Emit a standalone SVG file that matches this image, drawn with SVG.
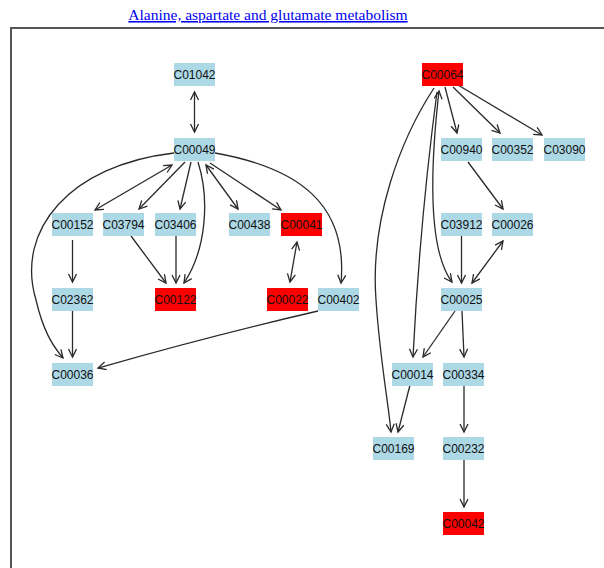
<svg xmlns="http://www.w3.org/2000/svg" width="604" height="568" viewBox="0 0 604 568">
  <style>
    .title { font-family: "Liberation Serif", "Times New Roman", serif; font-size: 15.5px; fill: #0000ee; text-decoration: underline; }
    .node rect { stroke: none; }
    .cpd rect { fill: #add8e6; }
    .hit rect { fill: #ff0000; }
    .node text { font-family: "Liberation Sans", Arial, sans-serif; font-size: 12px; fill: #111111; text-anchor: middle; }
    .edge { fill: none; stroke: #2a2a2a; stroke-width: 1.3; }
    .one { marker-end: url(#vee); }
    .two { marker-start: url(#vee); marker-end: url(#vee); }
  </style>
  <defs>
    <marker id="vee" markerUnits="userSpaceOnUse" markerWidth="12" markerHeight="12" refX="9" refY="4.5" orient="auto-start-reverse" viewBox="0 0 12 12">
      <path d="M1,0.5 L9,4.5 L1,8.5" fill="none" stroke="#2a2a2a" stroke-width="1.3"/>
    </marker>
  </defs>

  <rect width="604" height="568" fill="#ffffff"/>
  <text class="title" x="268" y="20" text-anchor="middle">Alanine, aspartate and glutamate metabolism</text>
  <path d="M11,620 L11,28 L620,28" fill="none" stroke="#555555" stroke-width="2"/>

  <g id="connectors">
    <path class="edge two" d="M194.5,92 L194.5,132"/>
    <path class="edge two" d="M172,165 L95,210"/>
    <path class="edge one" d="M185,162 L139,209"/>
    <path class="edge one" d="M191,162 L180,209"/>
    <path class="edge one" d="M198,162 C210,200 206,250 184,283"/>
    <path class="edge two" d="M206,165 L238,209"/>
    <path class="edge one" d="M210,163 L281,210"/>
    <path class="edge one" d="M215,153 C300,168 348,205 341,283"/>
    <path class="edge one" d="M174,153 C70,165 15,230 36,300 C43,330 52,345 63,358"/>
    <path class="edge one" d="M72.5,240 L72.5,282"/>
    <path class="edge one" d="M131,236 L166,283"/>
    <path class="edge one" d="M176,236 L176,283"/>
    <path class="edge two" d="M297,242 L290,282"/>
    <path class="edge one" d="M72.5,311 L72.5,357"/>
    <path class="edge one" d="M318,311 Q210,336 98,368"/>

    <path class="edge one" d="M445,87 L457,133"/>
    <path class="edge one" d="M453,87 L500,133"/>
    <path class="edge one" d="M458,85 L542,135"/>
    <path class="edge one" d="M468,162 L503,209"/>
    <path class="edge one" d="M461.5,236 L461.5,283"/>
    <path class="edge two" d="M503,241 L472,283"/>
    <path class="edge one" d="M455,311 L423,357"/>
    <path class="edge one" d="M462,311 L464,357"/>
    <path class="edge one" d="M410,385 L398,432"/>
    <path class="edge one" d="M464,385 L464,432"/>
    <path class="edge one" d="M464,460 L464,507"/>
    <path class="edge one" d="M434,88 C400,140 370,220 376,300 C380,360 388,400 391,432"/>
    <path class="edge one" d="M437,92 Q420,220 413,357"/>
    <path class="edge two" d="M439,91 C430,170 428,250 452,282"/>
  </g>

  <g id="C01042" class="node cpd"><rect x="174" y="63" width="41" height="23"/><text x="194.5" y="78.5">C01042</text></g>
  <g id="C00049" class="node cpd"><rect x="174" y="138" width="41" height="23"/><text x="194.5" y="153.5">C00049</text></g>
  <g id="C00152" class="node cpd"><rect x="52" y="213" width="41" height="23"/><text x="72.5" y="228.5">C00152</text></g>
  <g id="C03794" class="node cpd"><rect x="103" y="213" width="41" height="23"/><text x="123.5" y="228.5">C03794</text></g>
  <g id="C03406" class="node cpd"><rect x="155" y="213" width="41" height="23"/><text x="175.5" y="228.5">C03406</text></g>
  <g id="C00438" class="node cpd"><rect x="229" y="213" width="41" height="23"/><text x="249.5" y="228.5">C00438</text></g>
  <g id="C00041" class="node hit"><rect x="281" y="213" width="41" height="23"/><text x="301.5" y="228.5">C00041</text></g>
  <g id="C02362" class="node cpd"><rect x="52" y="288" width="41" height="23"/><text x="72.5" y="303.5">C02362</text></g>
  <g id="C00122" class="node hit"><rect x="155" y="288" width="41" height="23"/><text x="175.5" y="303.5">C00122</text></g>
  <g id="C00022" class="node hit"><rect x="267" y="288" width="41" height="23"/><text x="287.5" y="303.5">C00022</text></g>
  <g id="C00402" class="node cpd"><rect x="318" y="288" width="41" height="23"/><text x="338.5" y="303.5">C00402</text></g>
  <g id="C00036" class="node cpd"><rect x="52" y="363" width="41" height="23"/><text x="72.5" y="378.5">C00036</text></g>

  <g id="C00064" class="node hit"><rect x="422" y="63" width="41" height="23"/><text x="442.5" y="78.5">C00064</text></g>
  <g id="C00940" class="node cpd"><rect x="441" y="138" width="41" height="23"/><text x="461.5" y="153.5">C00940</text></g>
  <g id="C00352" class="node cpd"><rect x="492" y="138" width="41" height="23"/><text x="512.5" y="153.5">C00352</text></g>
  <g id="C03090" class="node cpd"><rect x="544" y="138" width="41" height="23"/><text x="564.5" y="153.5">C03090</text></g>
  <g id="C03912" class="node cpd"><rect x="441" y="213" width="41" height="23"/><text x="461.5" y="228.5">C03912</text></g>
  <g id="C00026" class="node cpd"><rect x="492" y="213" width="41" height="23"/><text x="512.5" y="228.5">C00026</text></g>
  <g id="C00025" class="node cpd"><rect x="441" y="288" width="41" height="23"/><text x="461.5" y="303.5">C00025</text></g>
  <g id="C00014" class="node cpd"><rect x="392" y="363" width="41" height="23"/><text x="412.5" y="378.5">C00014</text></g>
  <g id="C00334" class="node cpd"><rect x="443" y="363" width="41" height="23"/><text x="463.5" y="378.5">C00334</text></g>
  <g id="C00169" class="node cpd"><rect x="373" y="437" width="41" height="23"/><text x="393.5" y="452.5">C00169</text></g>
  <g id="C00232" class="node cpd"><rect x="443" y="437" width="41" height="23"/><text x="463.5" y="452.5">C00232</text></g>
  <g id="C00042" class="node hit"><rect x="443" y="512" width="41" height="23"/><text x="463.5" y="527.5">C00042</text></g>
</svg>
